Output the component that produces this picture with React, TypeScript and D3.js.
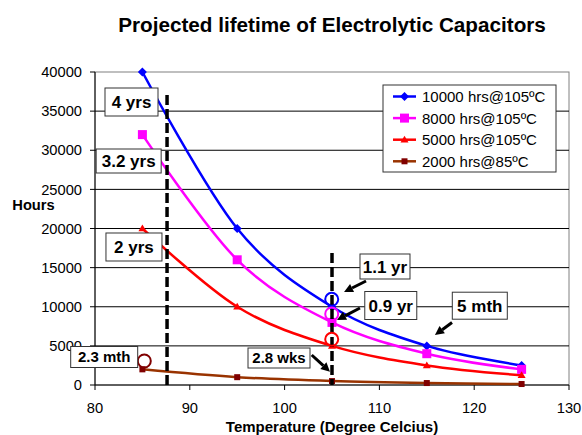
import React from "react";
import * as d3 from "d3";

// ---- data ----
const temperatures = [85, 95, 105, 115, 125];
const hours10000 = [40000, 20000, 10000, 5000, 2500];
const hours8000 = [32000, 16000, 8000, 4000, 2000];
const hours5000 = [20000, 10000, 5000, 2500, 1250];
const hours2000 = [2000, 1000, 500, 250, 125];
const seriesLabels = ["10000 hrs@105ºC", "8000 hrs@105ºC", "5000 hrs@105ºC", "2000 hrs@85ºC"];
const xTickValues = [80, 90, 100, 110, 120, 130];
const yTickValues = [0, 5000, 10000, 15000, 20000, 25000, 30000, 35000, 40000];

// callouts (data coordinates of box centres)
const calloutTexts = ["4 yrs", "3.2 yrs", "2 yrs", "2.3 mth", "2.8 wks", "1.1 yr", "0.9 yr", "5 mth"];
const calloutTemps = [83.85, 83.55, 84.11, 80.97, 99.41, 110.59, 111.2, 120.59];
const calloutHours = [36166, 28626, 17636, 3578, 3450, 15144, 10160, 10134];

// highlight circles
const circleTemps = [104.97, 104.97, 104.97, 85.2];
const circleHours = [10952, 9073, 5840, 3067];

// arrows
const arrowFromTemps = [108.59, 107.95, 117.66, 102.86];
const arrowFromHours = [13291, 9840, 7987, 3834];
const arrowToTemps = [106.27, 105.53, 115.86, 104.79];
const arrowToHours = [11885, 8307, 6390, 1700];

// dashed reference lines
const refTemps = [87.6, 105];
const refTopHours = [37060, 16869];

// ---- layout / style ----
const W = 582;
const H = 435;
const plot = { left: 95, right: 569, top: 72, bottom: 385 };
const FONT = "'Liberation Sans', Arial, sans-serif";
const seriesColors = ["#0000FF", "#FF00FF", "#FF0000", "#993300"];
const markerColors = ["#0000FF", "#FF00FF", "#FF0000", "#800000"];
const calloutSizes = [
  [53, 28], [65, 24], [56, 28], [67, 21], [62, 20], [50, 25], [52, 28], [55, 27],
];
const calloutFont = [17, 17, 17, 15, 15, 17, 17, 17];
const circleColors = ["#0000FF", "#FF00FF", "#FF0000", "#800000"];

function Marker({ kind, x, y }: { kind: number; x: number; y: number }) {
  const c = markerColors[kind];
  if (kind === 0) {
    const s = 4.5;
    return <polygon points={`${x},${y - s} ${x + s},${y} ${x},${y + s} ${x - s},${y}`} fill={c} />;
  }
  if (kind === 1) {
    const s = 4.5;
    return <rect x={x - s} y={y - s} width={2 * s} height={2 * s} fill={c} />;
  }
  if (kind === 2) {
    const s = 4;
    return <polygon points={`${x},${y - s} ${x + s},${y + s * 0.7} ${x - s},${y + s * 0.7}`} fill={c} />;
  }
  const s = 3;
  return <rect x={x - s} y={y - s} width={2 * s} height={2 * s} fill={c} />;
}

export default function App() {
  const x = d3.scaleLinear().domain([80, 130]).range([plot.left, plot.right]);
  const y = d3.scaleLinear().domain([0, 40000]).range([plot.bottom, plot.top]);
  const allSeries = [hours10000, hours8000, hours5000, hours2000];
  const line = d3
    .line<[number, number]>()
    .x((d) => x(d[0]))
    .y((d) => y(d[1]))
    .curve(d3.curveCardinal.tension(0));

  const legendX = 383;
  const legendY = 85;
  const legendW = 173;
  const legendH = 87;

  return (
    <div style={{ position: "fixed", left: 0, top: 0 }}>
      <svg width={W} height={H} style={{ display: "block", background: "#fff" }} fontFamily={FONT}>
        <rect x={0} y={0} width={W} height={H} fill="#fff" />
        {/* title */}
        <text x={332} y={32} textAnchor="middle" fontSize={20.7} fontWeight="bold">
          Projected lifetime of Electrolytic Capacitors
        </text>

        {/* plot area border */}
        <rect
          x={plot.left}
          y={plot.top}
          width={plot.right - plot.left}
          height={plot.bottom - plot.top}
          fill="#fff"
          stroke="#808080"
          strokeWidth={1}
        />
        {/* gridlines */}
        {yTickValues
          .filter((v) => v > 0 && v < 40000)
          .map((v) => (
            <line key={v} x1={plot.left} x2={plot.right} y1={y(v)} y2={y(v)} stroke="#000" strokeWidth={1} />
          ))}

        {/* y axis */}
        <line x1={plot.left} x2={plot.left} y1={plot.top} y2={plot.bottom} stroke="#000" strokeWidth={1} />
        {yTickValues.map((v) => (
          <g key={v}>
            <line x1={plot.left - 5} x2={plot.left} y1={y(v)} y2={y(v)} stroke="#000" />
            <text x={82} y={y(v)} dy="0.35em" textAnchor="end" fontSize={14.7}>
              {v}
            </text>
          </g>
        ))}
        {/* x axis */}
        <line x1={plot.left} x2={plot.right} y1={plot.bottom} y2={plot.bottom} stroke="#000" strokeWidth={1} />
        {xTickValues.map((v) => (
          <g key={v}>
            <line x1={x(v)} x2={x(v)} y1={plot.bottom} y2={plot.bottom + 5} stroke="#000" />
            <text x={x(v)} y={413} textAnchor="middle" fontSize={14.7}>
              {v}
            </text>
          </g>
        ))}

        {/* axis titles */}
        <text x={33.5} y={210} textAnchor="middle" fontSize={14.7} fontWeight="bold">
          Hours
        </text>
        <text x={332} y={432} textAnchor="middle" fontSize={15} fontWeight="bold">
          Temperature (Degree Celcius)
        </text>

        {/* series lines */}
        {allSeries.map((vals, i) => (
          <path
            key={"l" + i}
            d={line(temperatures.map((t, j) => [t, vals[j]] as [number, number])) || ""}
            fill="none"
            stroke={seriesColors[i]}
            strokeWidth={2.5}
          />
        ))}
        {allSeries.map((vals, i) =>
          temperatures.map((t, j) => <Marker key={`m${i}-${j}`} kind={i} x={x(t)} y={y(vals[j])} />)
        )}

        {/* dashed reference lines */}
        {refTemps.map((t, i) => (
          <line
            key={"r" + i}
            x1={x(t)}
            x2={x(t)}
            y1={y(refTopHours[i])}
            y2={y(0)}
            stroke="#000"
            strokeWidth={3.5}
            strokeDasharray="10,4"
          />
        ))}

        {/* highlight circles */}
        {circleTemps.map((t, i) => (
          <circle
            key={"c" + i}
            cx={x(t)}
            cy={y(circleHours[i])}
            r={6.5}
            fill="none"
            stroke={circleColors[i]}
            strokeWidth={2}
          />
        ))}

        {/* arrows */}
        {arrowFromTemps.map((t, i) => {
          const x1 = x(t);
          const y1 = y(arrowFromHours[i]);
          const x2 = x(arrowToTemps[i]);
          const y2 = y(arrowToHours[i]);
          const ang = Math.atan2(y2 - y1, x2 - x1);
          const L = 9;
          const Wd = 4.5;
          const bx = x2 - L * Math.cos(ang);
          const by = y2 - L * Math.sin(ang);
          const px = -Math.sin(ang) * Wd;
          const py = Math.cos(ang) * Wd;
          return (
            <g key={"a" + i}>
              <line x1={x1} y1={y1} x2={bx} y2={by} stroke="#000" strokeWidth={3} />
              <polygon points={`${x2},${y2} ${bx + px},${by + py} ${bx - px},${by - py}`} fill="#000" />
            </g>
          );
        })}

        {/* callout boxes */}
        {calloutTexts.map((txt, i) => {
          const cx = x(calloutTemps[i]);
          const cy = y(calloutHours[i]);
          const [bw, bh] = calloutSizes[i];
          return (
            <g key={"b" + i}>
              <rect x={cx - bw / 2} y={cy - bh / 2} width={bw} height={bh} fill="#fff" stroke="#333" strokeWidth={1} />
              <text x={cx} y={cy} dy="0.36em" textAnchor="middle" fontSize={calloutFont[i]} fontWeight="bold">
                {txt}
              </text>
            </g>
          );
        })}

        {/* legend */}
        <rect x={legendX} y={legendY} width={legendW} height={legendH} fill="#fff" stroke="#333" strokeWidth={1} />
        {seriesLabels.map((lab, i) => {
          const ly = 96.5 + i * 21.6;
          return (
            <g key={"lg" + i}>
              <line x1={393} x2={416} y1={ly} y2={ly} stroke={seriesColors[i]} strokeWidth={2.5} />
              <Marker kind={i} x={404.5} y={ly} />
              <text x={422} y={ly} dy="0.36em" fontSize={15}>
                {lab}
              </text>
            </g>
          );
        })}
      </svg>
    </div>
  );
}
